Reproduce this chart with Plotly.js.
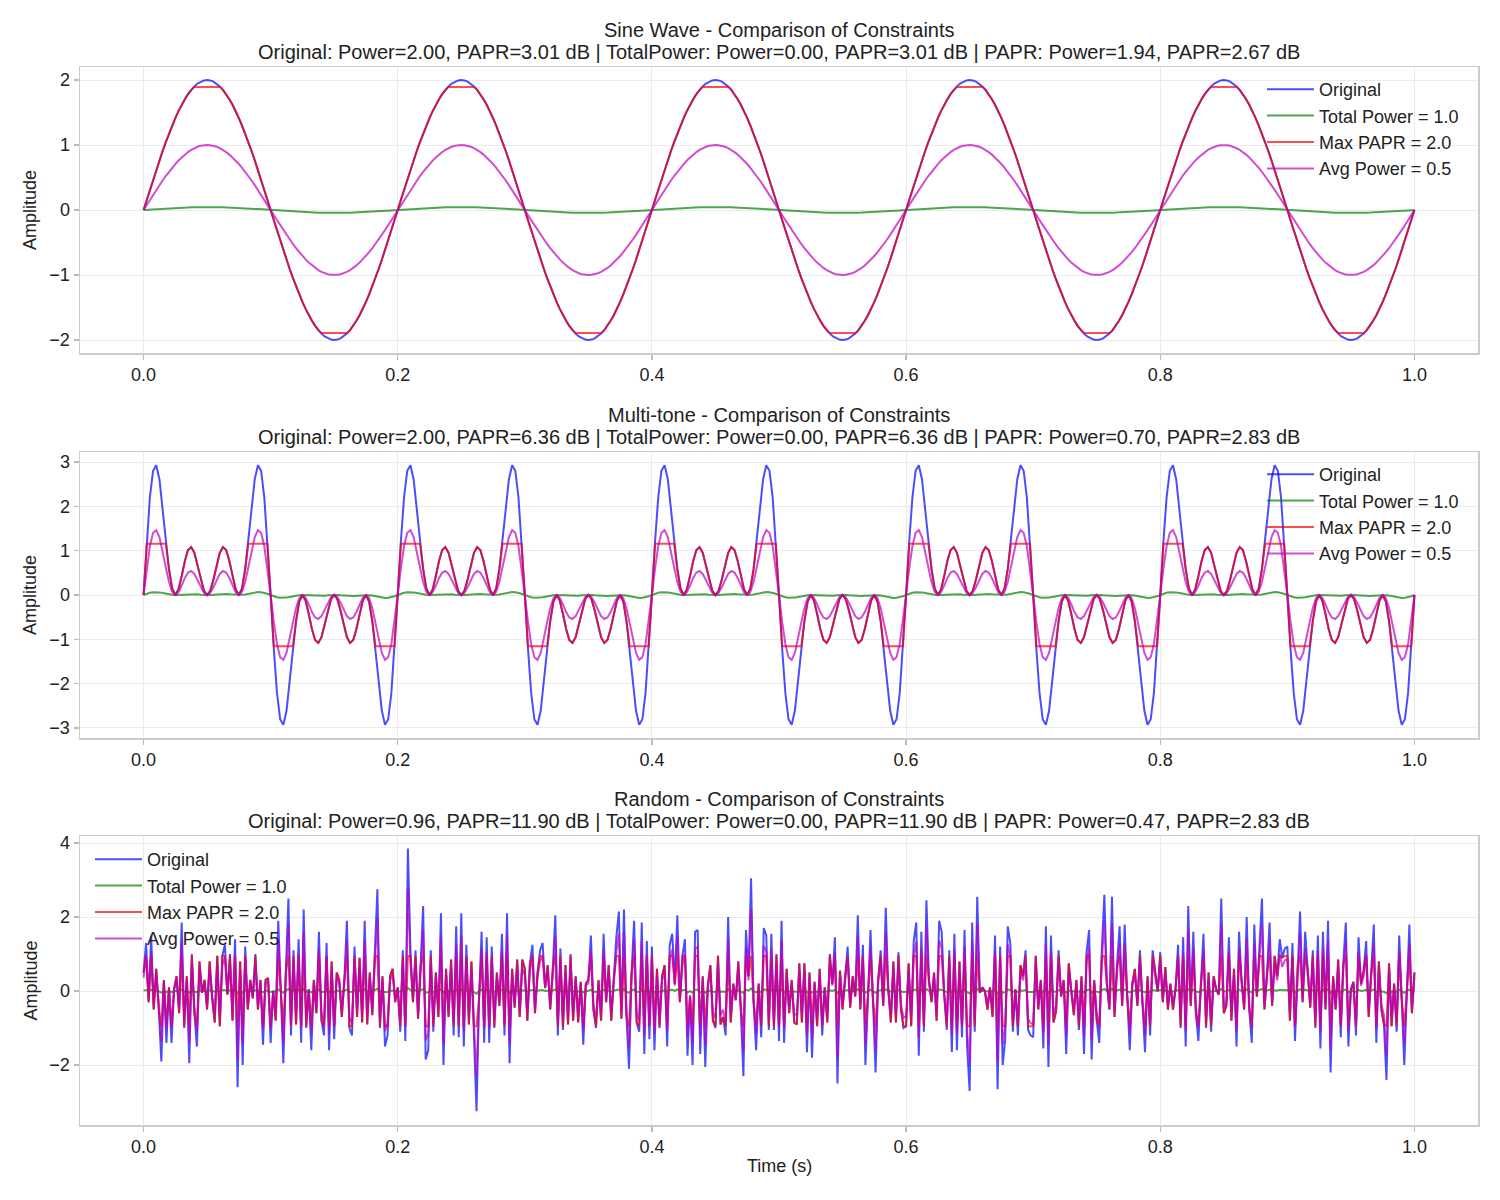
<!DOCTYPE html>
<html>
<head>
<meta charset="utf-8">
<script src="https://cdn.plot.ly/plotly-3.0.1.min.js"></script>
<style>
  html, body { margin: 0; padding: 0; background: #ffffff; }
  #chart { width: 1500px; height: 1200px; }
</style>
</head>
<body>
<div id="chart"></div>
<script>
// ---------------------------------------------------------------------------
// Signals (1 s long). Sine and multi-tone repeat every 0.2 s; one period is
// listed, sampled every 2.5 ms.
// ---------------------------------------------------------------------------
const PERIODS = 5;

// 5 Hz sine, amplitude 2
const sinePeriod = [
  0, 0.157, 0.313, 0.467, 0.618, 0.765, 0.908, 1.045, 1.176, 1.299,
  1.414, 1.521, 1.618, 1.705, 1.782, 1.848, 1.902, 1.945, 1.975, 1.994,
  2.000, 1.994, 1.975, 1.945, 1.902, 1.848, 1.782, 1.705, 1.618, 1.521,
  1.414, 1.299, 1.176, 1.045, 0.908, 0.765, 0.618, 0.467, 0.313, 0.157,
  0, -0.157, -0.313, -0.467, -0.618, -0.765, -0.908, -1.045, -1.176, -1.299,
  -1.414, -1.521, -1.618, -1.705, -1.782, -1.848, -1.902, -1.945, -1.975, -1.994,
  -2.000, -1.994, -1.975, -1.945, -1.902, -1.848, -1.782, -1.705, -1.618, -1.521,
  -1.414, -1.299, -1.176, -1.045, -0.908, -0.765, -0.618, -0.467, -0.313, -0.157
];

// multi-tone (5, 15, 25, 35 Hz)
const multiTonePeriod = [
  0, 1.217, 2.209, 2.804, 2.927, 2.613, 1.992, 1.253, 0.588, 0.147,
  0, 0.126, 0.427, 0.768, 1.015, 1.082, 0.951, 0.673, 0.350, 0.096,
  0, 0.096, 0.350, 0.673, 0.951, 1.082, 1.015, 0.768, 0.427, 0.126,
  0, 0.147, 0.588, 1.253, 1.992, 2.613, 2.927, 2.804, 2.209, 1.217,
  0, -1.217, -2.209, -2.804, -2.927, -2.613, -1.992, -1.253, -0.588, -0.147,
  0, -0.126, -0.427, -0.768, -1.015, -1.082, -0.951, -0.673, -0.350, -0.096,
  0, -0.096, -0.350, -0.673, -0.951, -1.082, -1.015, -0.768, -0.427, -0.126,
  0, -0.147, -0.588, -1.253, -1.992, -2.613, -2.927, -2.804, -2.209, -1.217
];

// random signal, one sample every 2 ms from 0 to 1 s
const randomOriginal = [
  0.5, 1.3, -0.3, 1.5, -0.5, 0.6, -0.5, -1.9, 0.3, -1.4,
  0.1, -1.4, 0.05, 0.4, -0.6, 1.85, -1.0, 0.4, -1.95, 1.0,
  -0.6, -1.5, 0.8, -0.05, 0.3, -0.5, 0.8, -0.2, -0.85, 0.95,
  -0.95, 0.95, 1.25, -0.1, 1.0, -0.8, 1.4, -2.6, 0.8, -2.0,
  1.2, -0.5, 0.3, -0.2, 1.0, -0.5, 0.3, -1.45, 0.3, 0.35,

  -1.4, 0, -0.8, 1.9, 0, -1.95, 0.55, 2.5, -1.2, 1.1,
  -0.9, 1.4, -1.4, 2.2, -1.0, 0.05, -1.6, 0.3, -0.6, 1.6,
  -0.8, -1.2, 1.3, -1.6, 0.8, -1.3, 0.5, 0.3, -0.7, 0.3,
  1.9, -1.0, -1.2, 1.2, -0.7, 0.9, -0.85, 1.9, -0.9, 0.5,
  -0.65, 1.1, 2.75, -1.0, 0.4, -1.5, -1.2, 0.4, 0.6, -0.3,

  0.1, -1.1, 1.1, -1.35, 3.85, 1.1, -0.3, 1.1, -0.75, 0.7,
  2.3, -1.85, -1.6, 1.1, -1.1, 0.5, -0.7, 2.1, -2.0, 0.6,
  -0.7, 0.85, -1.2, 1.75, -1.25, 2.1, -1.5, 1.25, -0.9, 0.8,
  -1.0, -3.25, -0.2, 1.6, -1.4, 1.45, -1.4, 1.2, -1.0, 0.5,
  -0.4, 1.55, -1.2, 2.1, -1.95, 0.6, -0.45, 0.85, -0.7, 0.85,

  0.6, -0.8, 0.75, 1.25, -0.6, 0.5, 1.1, 1.3, 0.1, 0.7,
  -0.5, 0.6, 2.05, -1.2, 1.15, -1.05, 0.7, -0.9, 1.0, -0.8,
  0.4, -0.85, 0.25, -1.45, 0.2, 0.3, 1.5, -0.5, -1.0, 0.3,
  -0.8, 1.55, -0.3, 0.7, -0.8, 0.3, 1.45, 2.15, -0.75, 2.2,
  -0.7, -2.1, 0.5, 1.9, -0.85, -1.1, 1.85, -1.7, 1.35, -1.3,

  1.2, -1.6, 0.6, -1.0, 0.4, 0.7, -1.5, 1.25, 1.55, 0.2,
  2.05, -0.3, 0.95, 1.4, -1.75, -0.15, -2.0, 1.6, 1.65, -1.7,
  0.4, -2.05, 0.15, 0.7, -0.8, -1.0, 0.95, -0.9, -0.7, -1.2,
  2.0, -0.85, 0.2, -0.25, 0.8, -0.55, -2.3, 1.65, 0.4, 3.05,
  -0.3, -1.6, 0.2, -1.25, 1.7, 1.5, -1.05, 1.55, -1.05, 1.0,

  -1.35, 1.9, -1.4, 0.6, -0.6, 0.3, -0.85, -0.9, 0.75, -0.85,
  0.75, -1.65, 0.5, -1.8, 0.25, -0.95, 0.6, -1.2, 0.1, -0.85,
  1.0, 0.2, 1.45, -2.5, 0.55, -0.5, 0.4, 1.2, -0.45, 0.4,
  -0.15, 2.05, -0.5, 1.25, -2.0, -0.15, 1.65, -0.3, -2.2, 0.3,
  1.1, -0.4, 2.25, 0.05, -0.85, 0.8, -0.85, 1.05, -0.5, -1.0,

  -0.95, 0.75, -0.95, 1.35, 1.85, -1.75, 1.6, -1.1, 2.45, 0.3,
  -0.3, 0.5, -0.8, 1.9, 1.6, -0.1, -1.05, 1.1, -1.65, 1.55,
  -1.6, 0.8, -1.25, 1.65, -1.5, -2.7, 1.85, -1.1, 2.55, -0.05,
  0.1, 0.0, -0.5, 0.1, -0.7, 1.5, -2.65, 1.2, -2.0, -1.3,
  1.75, 1.3, -1.1, 0.05, -1.2, 0.7, 0.4, 1.1, -1.05, -1.2,

  -1.25, 0.95, -0.5, 0.3, -1.55, 1.75, -2.05, 1.5, -0.85, -0.55,
  1.1, -0.15, 0.3, -1.7, 0.75, 0.0, -0.65, 0.3, -1.05, 0.4,
  -1.7, 1.05, 1.65, -1.85, 0.3, -0.8, -1.4, 1.1, 2.6, 0.2,
  -0.5, 2.55, -0.7, 0.7, 1.75, -0.4, 1.8, -0.15, -1.6, 0.2,
  0.6, -0.4, 1.1, -0.35, -1.65, 0.4, -1.2, 1.1, 0.5, 0.0,

  1.05, -0.3, 0.65, -0.5, 0.2, -0.5, 0.05, 1.25, -1.0, 1.45,
  -1.5, 2.3, -0.4, 1.6, -0.6, -1.35, 0.2, 1.55, -1.0, 0.5,
  -1.1, 0.4, 0.05, -0.1, 2.5, -0.6, -0.4, 1.45, -0.8, 0.6,
  -1.5, 1.6, 0.3, -0.5, 2.0, -0.5, -1.4, 1.8, -0.15, 1.2,
  2.5, -0.5, 0.5, 1.85, -0.4, 0.95, 0.4, 1.4, 0.9, 1.15,

  1.2, -0.8, 1.3, -1.35, 0.7, 2.15, -0.3, 1.6, 0.6, -0.45,
  1.1, -1.0, 1.5, -1.55, 1.6, -0.5, 1.9, -2.2, 0.4, -0.5,
  0.85, -1.25, 0.75, 1.85, -1.5, 0.05, 0.25, -1.2, 1.45, 0.2,
  0.55, 1.35, -0.7, 0.5, 1.8, -1.4, 0.8, -0.5, -0.9, -2.4,
  0.75, -0.95, 0.2, -1.1, 1.5, -0.25, -2.0, -0.05, 1.8, -0.6,
  0.5
];

// ---------------------------------------------------------------------------
// Per-panel statistics (shown in the subplot titles)
// ---------------------------------------------------------------------------
const panelNames      = ['Sine Wave', 'Multi-tone', 'Random'];
const origPower       = [2.00, 2.00, 0.96];
const origPapr        = [3.01, 6.36, 11.90];
const totalPowerOut   = [0.00, 0.00, 0.00];
const totalPaprOut    = [3.01, 6.36, 11.90];
const paprPowerOut    = [1.94, 0.70, 0.47];
const paprPaprOut     = [2.67, 2.83, 2.83];
const totalPowerGain  = [0.0225, 0.0225, 0.0225];
const AVG_POWER_TARGET = 0.5;

const seriesNames  = ['Original', 'Total Power = 1.0', 'Max PAPR = 2.0', 'Avg Power = 0.5'];
const seriesColors = ['rgba(0,0,255,0.7)', 'rgba(0,128,0,0.7)', 'rgba(255,0,0,0.7)', 'rgba(191,0,191,0.7)'];
const yTicks = [[-2, -1, 0, 1, 2], [-3, -2, -1, 0, 1, 2, 3], [-2, 0, 2, 4]];
const yRanges = [[-2.2, 2.2], [-3.226, 3.226], [-3.62, 4.19]];
const xTicks = [0, 0.2, 0.4, 0.6, 0.8, 1.0];

// ---------------------------------------------------------------------------
function repeatPeriod(period, count) {
  const out = [];
  for (let p = 0; p < count; p++) out.push(...period);
  out.push(period[0]);
  return out;
}

const originals = [
  repeatPeriod(sinePeriod, PERIODS),
  repeatPeriod(multiTonePeriod, PERIODS),
  randomOriginal
];
const times = originals.map(sig => sig.map((_, k) => k / (sig.length - 1)));

// constrained versions of each original
function constrained(i) {
  const sig = originals[i];
  const clip = Math.sqrt(paprPowerOut[i] * Math.pow(10, paprPaprOut[i] / 10));
  const avgGain = Math.sqrt(AVG_POWER_TARGET / origPower[i]);
  return [
    sig,
    sig.map(v => v * totalPowerGain[i]),
    sig.map(v => Math.max(-clip, Math.min(clip, v))),
    sig.map(v => v * avgGain)
  ];
}

const traces = [];
const legendIds = ['legend', 'legend2', 'legend3'];
for (let i = 0; i < 3; i++) {
  const ys = constrained(i);
  const axisSuffix = i === 0 ? '' : String(i + 1);
  ys.forEach((y, s) => {
    traces.push({
      type: 'scatter', mode: 'lines',
      x: times[i], y: y,
      name: seriesNames[s],
      line: { color: seriesColors[s], width: 2 },
      xaxis: 'x' + axisSuffix, yaxis: 'y' + axisSuffix,
      legend: legendIds[i],
      showlegend: true,
      hoverinfo: 'skip'
    });
  });
}

// ---------------------------------------------------------------------------
const W = 1500, H = 1200;
const plotLeft = 80, plotRight = 1478;
const panelTop = [67, 452, 836];
const panelBottom = [353, 738, 1125];
const px = x => x / W;
const py = y => 1 - y / H;

const textColor = '#222222';
const axisCommon = {
  showgrid: true, gridcolor: '#ebebeb', gridwidth: 1,
  zeroline: false,
  showline: true, mirror: true, linecolor: '#cccccc', linewidth: 1.5,
  ticks: 'outside', ticklen: 5, tickwidth: 1.2, tickcolor: '#bbbbbb',
  tickfont: { size: 18, color: textColor }
};

const layout = {
  width: W, height: H,
  margin: { l: 0, r: 0, t: 0, b: 0 },
  paper_bgcolor: '#ffffff', plot_bgcolor: '#ffffff',
  font: { family: 'Liberation Sans, Arial, sans-serif', size: 18, color: textColor },
  annotations: [],
  showlegend: true
};

for (let i = 0; i < 3; i++) {
  const suf = i === 0 ? '' : String(i + 1);
  layout['xaxis' + suf] = Object.assign({}, axisCommon, {
    domain: [px(plotLeft), px(plotRight)],
    range: [-0.05, 1.05],
    tickvals: xTicks, tickformat: '.1f',
    anchor: 'y' + suf
  });
  layout['yaxis' + suf] = Object.assign({}, axisCommon, {
    domain: [py(panelBottom[i]), py(panelTop[i])],
    range: yRanges[i],
    tickvals: yTicks[i],
    anchor: 'x' + suf
  });

  const titleMain = panelNames[i] + ' - Comparison of Constraints';
  const titleStats =
    'Original: Power=' + origPower[i].toFixed(2) + ', PAPR=' + origPapr[i].toFixed(2) + ' dB | ' +
    'TotalPower: Power=' + totalPowerOut[i].toFixed(2) + ', PAPR=' + totalPaprOut[i].toFixed(2) + ' dB | ' +
    'PAPR: Power=' + paprPowerOut[i].toFixed(2) + ', PAPR=' + paprPaprOut[i].toFixed(2) + ' dB';
  const cx = px((plotLeft + plotRight) / 2);
  layout.annotations.push(
    { text: titleMain, x: cx, y: py(panelTop[i] - 37), xref: 'paper', yref: 'paper',
      xanchor: 'center', yanchor: 'middle', showarrow: false, font: { size: 20, color: textColor } },
    { text: titleStats, x: cx, y: py(panelTop[i] - 15), xref: 'paper', yref: 'paper',
      xanchor: 'center', yanchor: 'middle', showarrow: false, font: { size: 20, color: textColor } },
    { text: 'Amplitude', x: px(30), y: py((panelTop[i] + panelBottom[i]) / 2), xref: 'paper', yref: 'paper',
      xanchor: 'center', yanchor: 'middle', textangle: -90, showarrow: false, font: { size: 18, color: textColor } }
  );
}
layout.annotations.push({
  text: 'Time (s)', x: px((plotLeft + plotRight) / 2), y: py(1166), xref: 'paper', yref: 'paper',
  xanchor: 'center', yanchor: 'middle', showarrow: false, font: { size: 18, color: textColor }
});

const legendCommon = {
  bgcolor: 'rgba(0,0,0,0)', borderwidth: 0,
  font: { size: 18, color: textColor },
  xanchor: 'left', yanchor: 'top', tracegroupgap: 0,
  itemwidth: 47
};
layout.legend  = Object.assign({}, legendCommon, { x: px(1262), y: py(71) });
layout.legend2 = Object.assign({}, legendCommon, { x: px(1262), y: py(456) });
layout.legend3 = Object.assign({}, legendCommon, { x: px(90), y: py(841) });

Plotly.newPlot('chart', traces, layout, { staticPlot: true, displayModeBar: false });
</script>
</body>
</html>
